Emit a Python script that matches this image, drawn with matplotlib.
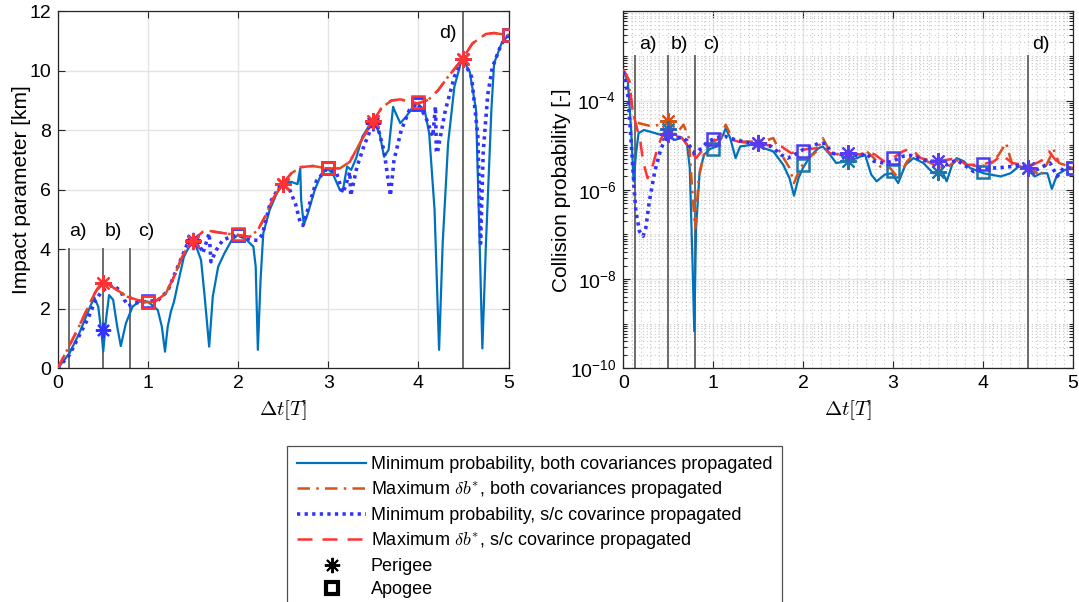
import numpy as np
import matplotlib
matplotlib.use("Agg")
import matplotlib.pyplot as plt
from matplotlib.lines import Line2D
from matplotlib.ticker import FixedLocator, LogLocator, NullFormatter, FuncFormatter

plt.rcParams['font.family'] = ['Liberation Sans', 'DejaVu Sans']
plt.rcParams['mathtext.fontset'] = 'cm'

# ---------------- data: impact parameter [km] ----------------
t_min_both = [0, 0.13, 0.24, 0.35, 0.405, 0.45, 0.49, 0.505, 0.535, 0.57, 0.615, 0.66, 0.70,
              0.756, 0.83, 0.90, 1.0, 1.11, 1.155, 1.19, 1.22, 1.255, 1.29, 1.35, 1.40, 1.476,
              1.53, 1.59, 1.63, 1.68, 1.72, 1.78, 1.85, 1.93, 2.0, 2.09, 2.17, 2.196, 2.22,
              2.25, 2.28, 2.35, 2.43, 2.50, 2.59, 2.66, 2.69, 2.70, 2.73, 2.775, 2.85, 2.92,
              2.99, 3.05, 3.13, 3.16, 3.21, 3.255, 3.31, 3.38, 3.46, 3.51, 3.57, 3.62, 3.67,
              3.72, 3.75, 3.80, 3.865, 3.94, 3.99, 4.07, 4.12, 4.18, 4.23, 4.27, 4.33, 4.40,
              4.485, 4.57, 4.64, 4.68, 4.71, 4.75, 4.81, 4.84, 4.92, 5.0]
b_min_both = [0, 0.5, 1.18, 2.0, 2.39, 2.07, 1.06, 0.56, 1.62, 2.46, 2.3, 1.4, 0.75,
              1.51, 2.07, 2.24, 2.24, 1.96, 1.4, 0.56, 1.4, 1.9, 2.24, 3.08, 3.75, 4.2,
              4.14, 3.64, 2.41, 0.73, 2.41, 3.42, 3.87, 4.31, 4.48, 4.33, 4.09, 3.42, 0.62,
              2.97, 4.54, 5.32, 5.88, 6.22, 6.27, 6.19, 6.72, 5.66, 4.82, 5.21, 5.99, 6.5,
              6.72, 6.55, 5.99, 5.94, 6.78, 6.67, 7.06, 7.79, 8.18, 8.24, 7.9, 7.11, 7.34,
              8.79, 8.57, 8.24, 8.46, 8.79, 8.9, 8.68, 7.9, 5.32, 0.62, 4.2, 7.56, 9.47,
              10.42, 9.97, 8.68, 4.2, 0.67, 4.2, 8.68, 10.25, 10.9, 11.2]

t_max_sc = [0, 0.2, 0.41, 0.48, 0.57, 0.66, 0.77, 0.88, 1.0, 1.08, 1.2, 1.29, 1.38, 1.48,
            1.61, 1.68, 1.82, 2.0, 2.13, 2.22, 2.3, 2.39, 2.5, 2.59, 2.69, 2.83, 2.99, 3.13,
            3.24, 3.35, 3.48, 3.59, 3.70, 3.8, 3.99, 4.11, 4.22, 4.33, 4.49, 4.6, 4.75,
            4.84, 5.0]
b_max_sc = [0, 1.18, 2.52, 2.86, 2.8, 2.63, 2.41, 2.3, 2.22, 2.24, 2.52, 3.08, 3.75, 4.26,
            4.59, 4.62, 4.55, 4.48, 4.42, 4.65, 5.1, 5.71, 6.22, 6.55, 6.76, 6.8, 6.72, 6.72,
            6.94, 7.56, 8.24, 8.74, 9.0, 9.04, 8.9, 9.02, 9.35, 9.8, 10.4, 10.92, 11.24,
            11.27, 11.2]

t_max_both = t_max_sc
b_max_both = [0, 1.18, 2.52, 2.86, 2.8, 2.63, 2.41, 2.3, 2.22, 2.24, 2.52, 3.08, 3.75, 4.26,
              4.59, 4.62, 4.55, 4.48, 4.42, 4.65, 5.1, 5.71, 6.22, 6.55, 6.76, 6.8, 6.72, 6.72,
              6.94, 7.56, 8.24, 8.74, 9.0, 9.04, 8.9, 9.02, 9.35, 9.8, 10.4, 10.92, 11.24,
              11.27, 11.2]

t_min_sc = [0, 0.13, 0.34, 0.42, 0.5, 0.61, 0.70, 0.74, 0.78, 0.87, 1.0, 1.11, 1.22, 1.33,
            1.44, 1.5, 1.55, 1.61, 1.68, 1.70, 1.76, 1.83, 1.93, 2.0, 2.09, 2.17, 2.22,
            2.27, 2.36, 2.46, 2.5, 2.56, 2.64, 2.69, 2.72, 2.79, 2.87, 2.99, 3.09, 3.16,
            3.19, 3.24, 3.25, 3.32, 3.40, 3.5, 3.55, 3.62, 3.69, 3.73, 3.81, 3.90, 3.99,
            4.08, 4.16, 4.19, 4.20, 4.21, 4.30, 4.40, 4.49, 4.59, 4.66, 4.69, 4.72, 4.77,
            4.82, 4.92, 5.0]
b_min_sc = [0, 0.45, 1.7, 2.3, 2.62, 2.8, 2.6, 2.3, 2.1, 2.2, 2.25, 2.28, 2.6, 3.4,
            4.2, 4.3, 4.3, 3.87, 4.54, 3.58, 3.98, 4.31, 4.43, 4.48, 4.37, 4.31, 4.3,
            4.5, 5.6, 6.1, 6.2, 6.1, 5.5, 4.9, 4.8, 5.5, 6.3, 6.72, 6.6, 5.9,
            6.1, 6.6, 5.8, 6.78, 7.5, 8.24, 8.1, 7.3, 5.8, 7.0, 8.0, 8.68, 8.9,
            8.46, 7.79, 8.8, 7.3, 7.23, 8.68, 9.8, 10.4, 9.8, 7.8, 4.2, 7.3, 9.2,
            10.1, 10.9, 11.2]

# perigee / apogee markers
t_peri = [0.5, 1.5, 2.5, 3.5, 4.5]
t_apo = [1, 2, 3, 4, 5]
b_peri_min_both = [1.3, 4.25, 6.2, 8.24, 10.4]
b_apo_min_both = [2.24, 4.48, 6.72, 8.9, 11.2]
b_peri_min_sc = [2.62, 4.3, 6.2, 8.24, 10.4]
b_apo_min_sc = [2.25, 4.48, 6.72, 8.9, 11.2]
b_peri_max = [2.86, 4.28, 6.2, 8.3, 10.4]
b_apo_max = [2.24, 4.5, 6.72, 8.95, 11.2]

# ---------------- data: collision probability (log10) ----------------
tp_min_both = [0, 0.05, 0.086, 0.115, 0.14, 0.17, 0.23, 0.32, 0.47, 0.58, 0.65, 0.71, 0.74,
               0.77, 0.79, 0.81, 0.85, 0.90, 0.97, 1.04, 1.11, 1.14, 1.19, 1.25, 1.3, 1.43,
               1.54, 1.67, 1.78, 1.85, 1.90, 1.95, 2.0, 2.08, 2.17, 2.22, 2.30, 2.37, 2.49,
               2.60, 2.69, 2.76, 2.82, 2.91, 2.99, 3.06, 3.14, 3.23, 3.34, 3.45, 3.55, 3.60,
               3.66, 3.71, 3.79, 3.86, 4.01, 4.2, 4.31, 4.40, 4.48, 4.58, 4.65, 4.72, 4.77,
               4.83, 4.92, 5.0]
lp_min_both = [-3.35, -3.57, -4.62, -5.81, -5.21, -4.73, -4.66, -4.71, -4.8, -4.88, -4.83, -4.99, -5.51,
               -7.6, -9.17, -6.86, -5.59, -5.21, -5.08, -5.03, -4.77, -4.62, -4.84, -5.29, -5.03, -4.99,
               -5.05, -5.14, -5.44, -5.74, -6.13, -5.74, -5.51, -5.25, -5.07, -5.03, -5.21, -5.40, -5.36,
               -5.29, -5.21, -5.66, -5.81, -5.66, -5.63, -5.85, -5.44, -5.29, -5.4, -5.63, -5.59, -5.81,
               -5.44, -5.29, -5.36, -5.51, -5.63, -5.70, -5.63, -5.48, -5.51, -5.70, -5.63, -5.63, -5.98,
               -5.66, -5.55, -5.52]

tp_max_both = [0, 0.05, 0.1, 0.13, 0.18, 0.32, 0.47, 0.5, 0.58, 0.67, 0.73, 0.77, 0.8, 0.84,
               0.9, 0.99, 1.1, 1.14, 1.21, 1.28, 1.43, 1.61, 1.67, 1.74, 1.85, 1.90, 1.97,
               2.04, 2.15, 2.22, 2.30, 2.41, 2.53, 2.64, 2.71, 2.79, 2.86, 2.97, 3.06, 3.16,
               3.23, 3.38, 3.5, 3.6, 3.71, 3.82, 3.98, 4.1, 4.18, 4.26, 4.33, 4.45, 4.54,
               4.64, 4.72, 4.79, 4.85, 5.0]
lp_max_both = [-3.35, -3.5, -4.17, -4.47, -4.51, -4.58, -4.51, -4.45, -4.77, -4.54, -4.84, -6.11, -6.86, -5.74,
               -5.18, -4.92, -4.73, -4.54, -4.84, -4.92, -4.92, -4.88, -4.84, -5.14, -5.51, -5.85, -5.51,
               -5.33, -5.14, -4.84, -5.14, -5.25, -5.29, -5.21, -5.14, -5.29, -5.48, -5.51, -5.74, -5.36,
               -5.21, -5.36, -5.48, -5.51, -5.33, -5.44, -5.48, -5.4, -5.21, -4.95, -5.44, -5.48, -5.51,
               -5.7, -5.4, -5.1, -5.4, -5.5]

tp_min_sc = [0, 0.05, 0.09, 0.12, 0.14, 0.18, 0.22, 0.25, 0.29, 0.35, 0.42, 0.49, 0.56, 0.65,
             0.71, 0.77, 0.8, 0.87, 0.94, 1.04, 1.13, 1.23, 1.34, 1.44, 1.55, 1.65, 1.76,
             1.83, 1.9, 2.0, 2.1, 2.17, 2.25, 2.32, 2.43, 2.5, 2.64, 2.7, 2.79, 2.9, 3.0,
             3.11, 3.2, 3.38, 3.5, 3.6, 3.71, 3.82, 3.9, 4.0, 4.16, 4.31, 4.45, 4.56, 4.67,
             4.75, 4.83, 4.9, 5.0]
lp_min_sc = [-3.35, -3.87, -4.99, -5.96, -6.48, -6.93, -7.04, -6.86, -6.26, -5.59, -5.07, -4.8, -4.83, -4.83,
             -4.9, -5.14, -5.18, -5.07, -4.92, -4.83, -4.8, -4.87, -4.92, -4.96, -5.0, -5.03, -5.22,
             -5.29, -5.22, -5.1, -5.03, -4.96, -4.96, -5.18, -5.21, -5.18, -5.25, -5.18, -5.36, -5.4, -5.36,
             -5.25, -5.23, -5.36, -5.36, -5.44, -5.33, -5.48, -5.59, -5.51, -5.51, -5.48, -5.44, -5.59, -5.48,
             -5.4, -5.7, -5.51, -5.52]

tp_max_sc = [0, 0.07, 0.1, 0.19, 0.22, 0.27, 0.33, 0.39, 0.46, 0.58, 0.65, 0.71, 0.77, 0.81,
             0.87, 0.94, 1.0, 1.12, 1.2, 1.28, 1.44, 1.61, 1.76, 1.87, 2.0, 2.15, 2.2, 2.3,
             2.41, 2.51, 2.64, 2.71, 2.8, 2.9, 3.0, 3.11, 3.2, 3.31, 3.46, 3.6, 3.71, 3.82,
             3.98, 4.13, 4.21, 4.33, 4.45, 4.56, 4.67, 4.74, 4.81, 4.9, 5.0]
lp_max_sc = [-3.3, -3.57, -4.2, -4.92, -5.36, -5.74, -5.44, -4.99, -4.69, -4.8, -4.83, -4.99, -5.18, -5.29,
             -5.14, -5.03, -4.92, -4.8, -4.87, -4.92, -4.96, -5.0, -5.03, -5.18, -5.1, -5.07, -4.99, -5.18,
             -5.21, -5.18, -5.21, -5.14, -5.21, -5.36, -5.29, -5.14, -5.07, -5.29, -5.36, -5.33, -5.29, -5.44,
             -5.44, -5.36, -5.21, -5.4, -5.44, -5.44, -5.33, -5.14, -5.33, -5.44, -5.52]

lp_peri_min_both = [-4.63, -4.95, -5.36, -5.59, -5.51]
lp_apo_min_both = [-5.09, -5.45, -5.57, -5.59, -5.52]
lp_peri_min_sc = [-4.75, -4.95, -5.18, -5.36, -5.51]
lp_apo_min_sc = [-4.86, -5.12, -5.29, -5.42, -5.52]
lp_peri_max_both = [-4.45, -4.95, -5.25, -5.45, -5.51]

# event lines and labels
t_events = [0.125, 0.5, 0.8, 4.5]
event_names = ['a)', 'b)', 'c)', 'd)']
left_line_top = [4, 4, 4, 12]
left_lbl_x = [0.13, 0.52, 0.89, 4.23]
left_lbl_y = [4.6, 4.6, 4.6, 11.25]
right_lbl_x = [0.18, 0.53, 0.89, 4.55]

c_min_both = '#0072BD'
c_max_both = '#D95319'
c_min_sc = '#3333FF'
c_max_sc = '#FF3333'
c_event = '#6b6b6b'
ast = (8, 2, 0)

fig = plt.figure(figsize=(10.79, 6.02), dpi=100)
W, H = 1079, 602
ax1 = fig.add_axes([57.7 / W, 1 - 368.3 / H, (508.5 - 57.7) / W, (368.3 - 11.3) / H])
ax2 = fig.add_axes([623.3 / W, 1 - 368.3 / H, (1072.5 - 623.3) / W, (368.3 - 11.3) / H])

ls_dashdot = (0, (5, 2.5, 1, 2.5))
ls_dash = (0, (6, 4))
ls_dot = (0, (0.9, 1.2))

# ----- left: impact parameter -----
for x, top in zip(t_events, left_line_top):
    ax1.plot([x, x], [0, top], color=c_event, lw=1.4, zorder=2)
for x, y, s in zip(left_lbl_x, left_lbl_y, event_names):
    ax1.text(x, y, s, fontsize=14, ha='left', va='center')

ax1.plot(t_min_both, b_min_both, color=c_min_both, lw=1.6, zorder=3)
ax1.plot(t_min_sc, b_min_sc, color=c_min_sc, lw=2.6, ls=ls_dot, zorder=4)
ax1.plot(t_max_both, b_max_both, color=c_max_both, lw=1.8, ls=ls_dashdot, zorder=5)
ax1.plot(t_max_sc, b_max_sc, color=c_max_sc, lw=1.8, ls=ls_dash, zorder=6)

ax1.plot(t_peri, b_peri_min_both, ls='none', marker=ast, ms=11, mew=1.5, color=c_min_sc, zorder=7)
ax1.plot(t_apo, b_apo_min_both, ls='none', marker='s', ms=9, mew=1.8, mfc='none', color=c_min_both, zorder=7)
ax1.plot(t_peri[1:], b_peri_min_sc[1:], ls='none', marker=ast, ms=11, mew=1.5, color=c_min_sc, zorder=7)
ax1.plot(t_apo, b_apo_min_sc, ls='none', marker='s', ms=9, mew=1.8, mfc='none', color=c_min_sc, zorder=7)
ax1.plot(t_peri, b_peri_max, ls='none', marker=ast, ms=12, mew=1.6, color=c_max_sc, zorder=8)
ax1.plot(t_apo, b_apo_max, ls='none', marker='s', ms=9, mew=1.8, mfc='none', color=c_max_sc, zorder=8)

ax1.set_xlim(0, 5)
ax1.set_ylim(0, 12)
ax1.set_yticks(range(0, 13, 2))
ax1.set_xticks(range(0, 6))
ax1.set_ylabel('Impact parameter [km]', fontsize=15)
ax1.yaxis.set_label_coords(-0.059, 0.5)
ax1.set_xlabel(r'$\Delta t[T]$', fontsize=15, labelpad=4)
ax1.grid(True, color='#e3e3e3', lw=1.0, zorder=0)

# ----- right: collision probability -----
for x in t_events:
    ax2.plot([x, x], [1e-10, 1e-3], color=c_event, lw=1.4, zorder=2)
for x, s in zip(right_lbl_x, event_names):
    ax2.text(x, 1.8e-3, s, fontsize=14, ha='left', va='center')

ax2.plot(tp_min_both, 10.0 ** np.array(lp_min_both), color=c_min_both, lw=1.6, zorder=3)
ax2.plot(tp_max_both, 10.0 ** np.array(lp_max_both), color=c_max_both, lw=1.8, ls=ls_dashdot, zorder=4)
ax2.plot(tp_max_sc, 10.0 ** np.array(lp_max_sc), color=c_max_sc, lw=1.8, ls=ls_dash, zorder=5)
ax2.plot(tp_min_sc, 10.0 ** np.array(lp_min_sc), color=c_min_sc, lw=2.6, ls=ls_dot, zorder=6)

ax2.plot(t_peri[:1], 10.0 ** np.array(lp_peri_max_both[:1]), ls='none', marker=ast, ms=12, mew=1.5,
         color=c_max_both, zorder=7)
ax2.plot(t_peri, 10.0 ** np.array(lp_peri_min_both), ls='none', marker=ast, ms=12, mew=1.5,
         color='#1f77a8', zorder=7)
ax2.plot(t_apo, 10.0 ** np.array(lp_apo_min_both), ls='none', marker='s', ms=9, mew=1.8, mfc='none',
         color='#1f77a8', zorder=7)
ax2.plot(t_peri, 10.0 ** np.array(lp_peri_min_sc), ls='none', marker=ast, ms=12, mew=1.5,
         color='#5a3cf0', zorder=8)
ax2.plot(t_apo, 10.0 ** np.array(lp_apo_min_sc), ls='none', marker='s', ms=9, mew=1.8, mfc='none',
         color='#4a3cf0', zorder=8)

ax2.set_yscale('log')
ax2.set_xlim(0, 5)
ax2.set_ylim(1e-10, 1e-2)
ax2.set_xticks(range(0, 6))
ax2.yaxis.set_major_locator(FixedLocator([1e-10, 1e-8, 1e-6, 1e-4, 1e-2]))
ax2.yaxis.set_major_formatter(FuncFormatter(
    lambda v, p: '' if v > 1e-3 else r'$\mathregular{10^{%d}}$' % int(round(np.log10(v)))))
ax2.yaxis.set_minor_locator(LogLocator(base=10, subs=np.arange(1, 10), numticks=50))
ax2.yaxis.set_minor_formatter(NullFormatter())
ax2.xaxis.set_minor_locator(FixedLocator(np.arange(0, 5.01, 0.1)))
ax2.set_ylabel('Collision probability [-]', fontsize=15)
ax2.yaxis.set_label_coords(-0.117, 0.5)
ax2.set_xlabel(r'$\Delta t[T]$', fontsize=15, labelpad=4)
ax2.grid(True, which='major', color='#e3e3e3', lw=1.0, zorder=0)
ax2.grid(True, which='minor', color='#c8c8c8', lw=0.8, ls=(0, (1, 2.5)), zorder=0)

for ax in (ax1, ax2):
    ax.tick_params(which='both', direction='in', top=True, right=True, labelsize=14,
                   color='#262626', width=0.8)
    ax.tick_params(which='major', length=5, pad=5)
    ax.tick_params(which='minor', length=0)
    for sp in ax.spines.values():
        sp.set_color('#262626')
        sp.set_linewidth(0.9)
    ax.set_axisbelow(True)
ax2.tick_params(axis='y', which='minor', length=3)

# ----- legend -----
handles = [
    Line2D([], [], color=c_min_both, lw=1.6),
    Line2D([], [], color=c_max_both, lw=1.8, ls=ls_dashdot),
    Line2D([], [], color=c_min_sc, lw=2.6, ls=ls_dot),
    Line2D([], [], color=c_max_sc, lw=1.8, ls=ls_dash),
    Line2D([], [], color='k', ls='none', marker=ast, ms=11, mew=1.4),
    Line2D([], [], color='k', ls='none', marker='s', ms=9, mew=3, mfc='none'),
]
labels = [
    'Minimum probability, both covariances propagated',
    r'Maximum $\delta b^{*}$, both covariances propagated',
    'Minimum probability, s/c covarince propagated',
    r'Maximum $\delta b^{*}$, s/c covarince propagated',
    'Perigee',
    'Apogee',
]
leg = fig.legend(handles, labels, loc='upper left', bbox_to_anchor=(287 / W, 1 - 446 / H),
                 fontsize=13, frameon=True, fancybox=False, handlelength=3.85,
                 handletextpad=0.25, labelspacing=0.36, borderpad=0.55, borderaxespad=0)
leg.get_frame().set_edgecolor('#262626')
leg.get_frame().set_linewidth(0.9)

fig.savefig('out.png', dpi=100)
